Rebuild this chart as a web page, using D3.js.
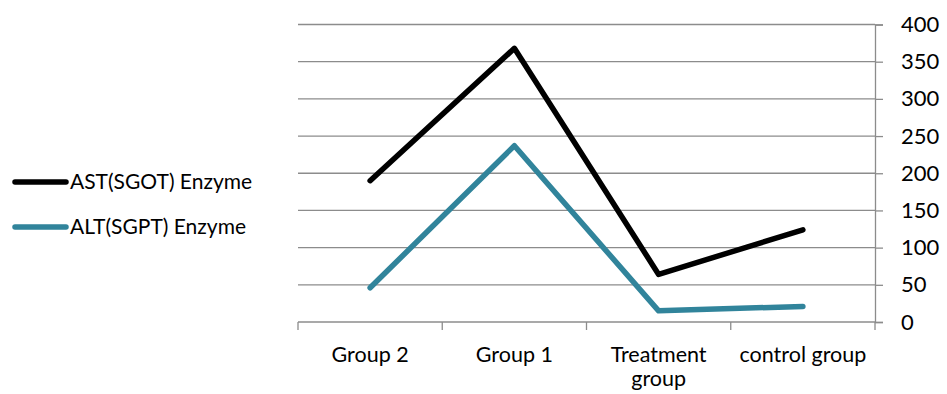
<!DOCTYPE html>
<html>
<head>
<meta charset="utf-8">
<script src="https://cdn.jsdelivr.net/npm/d3@7"></script>
<style>
  html, body { margin: 0; padding: 0; background: #fff; }
  svg { display: block; font-family: Lato, "Open Sans", sans-serif; }
</style>
</head>
<body>
<svg id="chart" width="947" height="394"></svg>
<script>
// Liver enzyme levels per group
const categories = ["Group 2", "Group 1", "Treatment group", "control group"];
const astValues = [190, 368, 64, 124];
const altValues = [46, 237, 15, 21];
const yTicks = [0, 50, 100, 150, 200, 250, 300, 350, 400];
const seriesNames = ["AST(SGOT) Enzyme", "ALT(SGPT) Enzyme"];
const seriesColors = ["#000000", "#31849B"];

const svg = d3.select("#chart");
const plotLeft = 298, plotRight = 875, plotTop = 24.5, plotBottom = 322;

const x = d3.scaleBand().domain(categories).range([plotLeft, plotRight]).paddingInner(0).paddingOuter(0);
const y = d3.scaleLinear().domain([0, 400]).range([plotBottom, plotTop]);

// horizontal gridlines
svg.append("g")
  .selectAll("line")
  .data(yTicks.filter(d => d > 0))
  .join("line")
  .attr("x1", plotLeft).attr("x2", plotRight)
  .attr("y1", d => y(d)).attr("y2", d => y(d))
  .attr("stroke", "#8c8c8c").attr("stroke-width", 1.3);

// right value axis
const yAxis = svg.append("g")
  .attr("transform", `translate(${plotRight},0)`)
  .call(d3.axisRight(y).tickValues(yTicks).tickSize(8).tickPadding(18));
yAxis.select(".domain").attr("stroke", "#8c8c8c").attr("stroke-width", 1.3);
yAxis.selectAll(".tick line").attr("stroke", "#8c8c8c").attr("stroke-width", 1.3);
yAxis.selectAll(".tick text").attr("font-size", 22).attr("fill", "#000")
  .attr("font-family", "Lato, 'Open Sans', sans-serif");

// bottom category axis
const xAxis = svg.append("g").attr("transform", `translate(0,${plotBottom})`);
xAxis.append("line").attr("x1", plotLeft).attr("x2", plotRight).attr("y1", 0).attr("y2", 0)
  .attr("stroke", "#8c8c8c").attr("stroke-width", 1.3);
const bounds = categories.map(c => x(c)).concat([plotRight]);
xAxis.selectAll("line.tk").data(bounds).join("line").attr("class", "tk")
  .attr("x1", d => d).attr("x2", d => d).attr("y1", 0).attr("y2", 8)
  .attr("stroke", "#8c8c8c").attr("stroke-width", 1.3);

const labelLines = {
  "Group 2": ["Group 2"],
  "Group 1": ["Group 1"],
  "Treatment group": ["Treatment", "group"],
  "control group": ["control group"]
};
categories.forEach(c => {
  const cx = x(c) + x.bandwidth() / 2;
  const t = xAxis.append("text")
    .attr("x", cx)
    .attr("y", 40)
    .attr("text-anchor", "middle")
    .attr("font-size", 21.5)
    .attr("fill", "#000");
  labelLines[c].forEach((ln, i) => {
    t.append("tspan").attr("x", cx).attr("dy", i === 0 ? 0 : 24).text(ln);
  });
});

// series lines
const line = d3.line()
  .x((d, i) => x(categories[i]) + x.bandwidth() / 2)
  .y(d => y(d));
[astValues, altValues].forEach((vals, k) => {
  svg.append("path")
    .datum(vals)
    .attr("d", line)
    .attr("fill", "none")
    .attr("stroke", seriesColors[k])
    .attr("stroke-width", 5.5)
    .attr("stroke-linecap", "round")
    .attr("stroke-linejoin", "round");
});

// legend
const legend = svg.append("g");
seriesNames.forEach((name, i) => {
  const ly = 182 + i * 45;
  legend.append("line")
    .attr("x1", 15).attr("x2", 66).attr("y1", ly).attr("y2", ly)
    .attr("stroke", seriesColors[i]).attr("stroke-width", 5.5)
    .attr("stroke-linecap", "round");
  legend.append("text")
    .attr("x", 70).attr("y", ly + 7)
    .attr("font-size", 21).attr("fill", "#000")
    .text(name);
});
</script>
</body>
</html>
